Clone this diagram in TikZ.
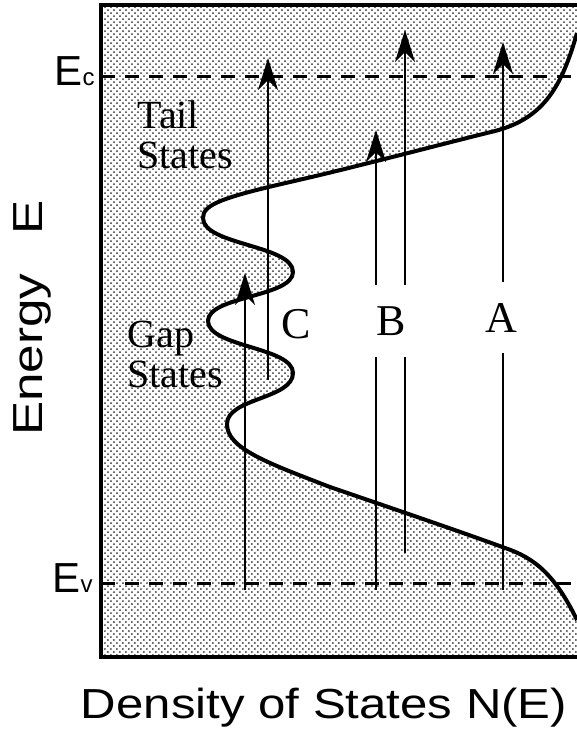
\documentclass[tikz,border=0pt]{standalone}
\usepackage{fontspec}
\setmainfont{Liberation Serif}
\newfontfamily\axisfont{Liberation Sans}
\usepackage{graphicx}
\usetikzlibrary{arrows.meta,patterns}

% density of states N(E), energy running downwards in the picture
\newcommand{\doscurve}{(577,33) .. controls (562,85) and (545,118) .. (495,131)
  .. controls (430,147) and (360,166) .. (290,182)
  .. controls (220,198) and (203,205) .. (203,218)
  .. controls (203,245) and (293,245) .. (293,272)
  .. controls (293,297) and (208,296) .. (208,321)
  .. controls (208,347) and (293,347) .. (293,373)
  .. controls (293,399) and (227,398) .. (227,424)
  .. controls (227,448) and (265,462) .. (330,487)
  .. controls (400,511) and (470,535) .. (505,548)
  .. controls (535,558) and (555,575) .. (577,620)}

\begin{document}
\begin{tikzpicture}[x=0.5pt, y=-0.5pt,
  frame/.style={line width=1.6pt},
  level/.style={line width=1.5pt, dash pattern=on 7pt off 5pt},
  shaft/.style={line width=1.3pt},
  probe/.style={shaft, -{Stealth[length=16pt,width=10pt,inset=5pt]}},
  letter/.style={inner xsep=0pt, inner ysep=10.5pt, font=\fontsize{22}{22}\selectfont},
  region/.style={inner sep=0pt, align=left, font=\fontsize{20}{20}\selectfont},
  axis/.style={inner sep=0pt, font=\axisfont\fontsize{21}{21}\selectfont}]
  \useasboundingbox (0,0) rectangle (577,736);

  % stippled states
  \fill[pattern=crosshatch dots, pattern color=black!80] (101,5) -- (577,5) -- \doscurve -- (577,657) -- (101,657) -- cycle;

  % band edges
  \draw[level] (101,76) -- (577,76);
  \draw[level] (101,583) -- (577,583);
  \draw[line width=2pt] \doscurve;

  % transitions
  \coordinate (g0) at (245,590);  \coordinate (g1) at (245,273);
  \coordinate (c0) at (268,380);  \coordinate (c1) at (268,58);
  \coordinate (b0) at (376,590);  \coordinate (b1) at (376,130);
  \coordinate (bb0) at (405,553); \coordinate (bb1) at (405,30);
  \coordinate (a0) at (503,590);  \coordinate (a1) at (503,42);

  \node[letter, anchor=base] (lblA) at (501,332) {A};
  \node[letter, anchor=base] (lblB) at (391,335) {B};
  \node[letter, anchor=base, inner ysep=0pt] (lblC) at (296,338) {C};

  \draw[probe] (g0) -- (g1);
  \draw[probe] (c0) -- (c1);
  \draw[shaft] (b0) -- (b0 |- lblB.south);
  \draw[probe] (b0 |- lblB.north) -- (b1);
  \draw[shaft] (bb0) -- (bb0 |- lblB.south);
  \draw[probe] (bb0 |- lblB.north) -- (bb1);
  \draw[shaft] (a0) -- (a0 |- lblA.south);
  \draw[probe] (a0 |- lblA.north) -- (a1);

  \draw[frame] (577,5) -- (101,5) -- (101,657) -- (577,657);

  \node[region, anchor=north west] (tail) at (137,100) {Tail\\States};
  \node[region, anchor=north west] (gap) at (127,321) {Gap\\States};

  \node[axis, anchor=base east] (ec) at (95,85) {E{\fontsize{12}{12}\selectfont c}};
  \node[axis, anchor=base east] (ev) at (93,592) {E{\fontsize{12}{12}\selectfont v}};
  \node[axis, anchor=base] (dos) at (324,718) {\scalebox{1.17}[1]{Density of States N(E)}};
  \node[axis, rotate=90, anchor=base] (energy) at (42,318) {\scalebox{1.22}[1]{Energy\hspace{16pt}E}};
\end{tikzpicture}
\end{document}
